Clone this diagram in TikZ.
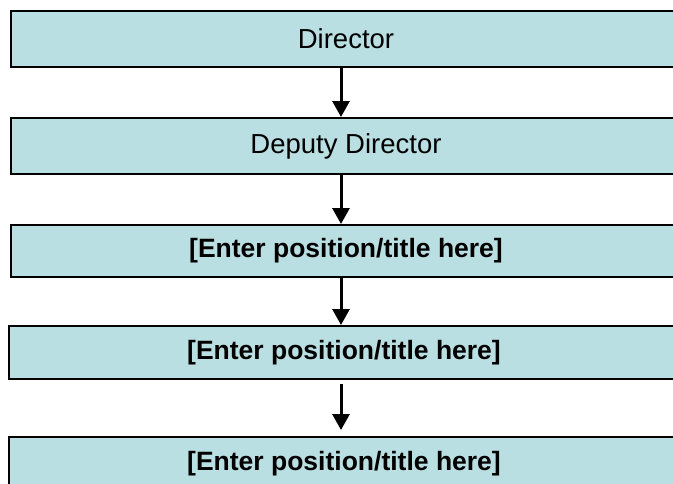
\documentclass[tikz,border=0pt]{standalone}
\usepackage{fontspec}
\setmainfont{Liberation Sans}
\usetikzlibrary{arrows.meta}
\definecolor{boxblue}{RGB}{185,223,227}

\begin{document}
\begin{tikzpicture}[x=1pt,y=-1pt,
	post/.style={draw=black,line width=2pt,fill=boxblue,minimum width=670pt,inner sep=0pt,font=\fontsize{27.5}{32}\selectfont},
	blank/.style={post,font=\fontsize{26.5}{31}\selectfont\bfseries},
	link/.style={line width=3pt,-{Triangle[width=17pt,length=16pt]}}]
\useasboundingbox (0,0) rectangle (673,483);
\node [post,minimum height=56pt] (dir) at (346,39) {Director};
\node [post,minimum height=56pt] (dep) at (346,146) {Deputy Director};
\node [blank,minimum height=52pt] (posa) at (346,251) {[Enter position/title here]};
\node [blank,minimum height=53pt] (posb) at (344,352.5) {[Enter position/title here]};
\node [blank,minimum height=53pt] (posc) at (344,463.5) {[Enter position/title here]};
\draw [link] ([xshift=-5pt]dir.south) -- ([xshift=-5pt]dep.north);
\draw [link] ([xshift=-5pt]dep.south) -- ([xshift=-5pt]posa.north);
\draw [link] ([xshift=-5pt]posa.south) -- ([xshift=-3pt]posb.north);
\draw [link,shorten <=4pt,shorten >=6pt] ([xshift=-3pt]posb.south) -- ([xshift=-3pt]posc.north);
\end{tikzpicture}
\end{document}
